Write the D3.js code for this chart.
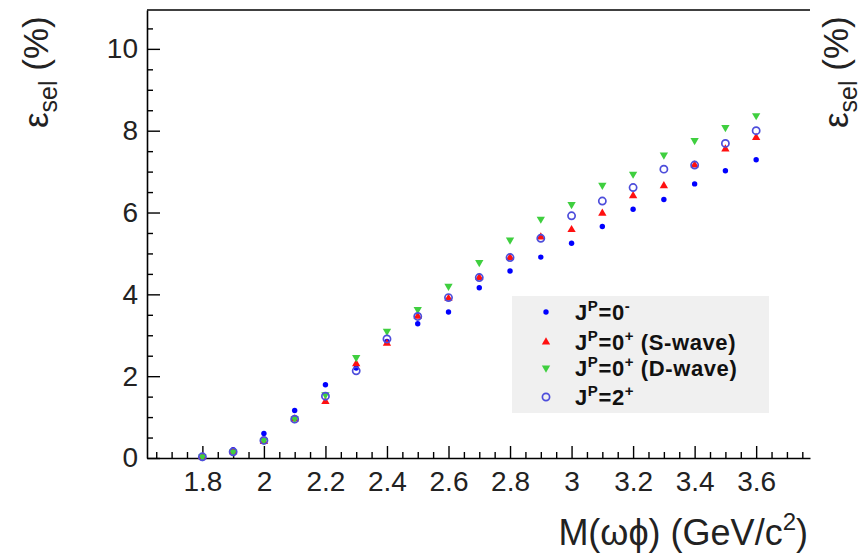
<!DOCTYPE html>
<html>
<head>
<meta charset="utf-8">
<script src="https://cdn.jsdelivr.net/npm/d3@7"></script>
<style>
  body { margin: 0; background: #fff; }
  svg { display: block; }
  text { font-family: "Liberation Sans", Arial, sans-serif; }
</style>
</head>
<body>
<div id="chart"></div>
<script>
// data (selection efficiency in %)
var masses   = [1.8, 1.9, 2.0, 2.1, 2.2, 2.3, 2.4, 2.5, 2.6, 2.7, 2.8, 2.9, 3.0, 3.1, 3.2, 3.3, 3.4, 3.5, 3.6];
var jp0minus = [0.03, 0.2, 0.6, 1.16, 1.79, 2.2, 2.85, 3.28, 3.57, 4.16, 4.57, 4.91, 5.25, 5.66, 6.08, 6.32, 6.7, 7.02, 7.29];
var jp0plusS = [0.03, 0.15, 0.4, 0.95, 1.38, 2.3, 2.8, 3.46, 3.9, 4.41, 4.9, 5.4, 5.58, 5.98, 6.41, 6.65, 7.16, 7.55, 7.83];
var jp0plusD = [0.03, 0.15, 0.43, 0.96, 1.55, 2.46, 3.1, 3.63, 4.2, 4.78, 5.33, 5.84, 6.2, 6.67, 6.94, 7.41, 7.76, 8.08, 8.37];
var jp2plus  = [0.03, 0.15, 0.43, 0.95, 1.51, 2.13, 2.91, 3.46, 3.92, 4.41, 4.9, 5.37, 5.92, 6.28, 6.61, 7.06, 7.16, 7.69, 8.0];
var xTicks = [1.8, 2.0, 2.2, 2.4, 2.6, 2.8, 3.0, 3.2, 3.4, 3.6];
var yTicks = [0, 2, 4, 6, 8, 10];

var svgWidth = 866;
var svgHeight = 556;
var margin = { top: 10, right: 56, bottom: 98, left: 147 };
var width = svgWidth - margin.left - margin.right;
var height = svgHeight - margin.top - margin.bottom;

var svg = d3.select("#chart").append("svg")
    .attr("width", svgWidth)
    .attr("height", svgHeight);

var g = svg.append("g")
    .attr("transform", `translate(${margin.left},${margin.top})`);

var xScale = d3.scaleLinear().domain([1.62, 3.775]).range([0, width]);
var yScale = d3.scaleLinear().domain([0, 10.95]).range([height, 0]);

// minor ticks every 0.05 on x, 0.5 on y
var xMinor = d3.range(33, 76).filter(i => i % 4 !== 0).map(i => i / 20);
var yMinor = d3.range(1, 22).filter(i => i % 4 !== 0).map(i => i / 2);

function styleAxis(sel) {
    sel.selectAll("path").attr("stroke", "#000").attr("stroke-width", 1.6);
    sel.selectAll("line").attr("stroke", "#000").attr("stroke-width", 1.4);
    sel.selectAll("text").attr("font-size", 28).attr("fill", "#222")
        .attr("font-family", "'Liberation Sans', Arial, sans-serif");
}

// x axis (ticks point into the frame)
g.append("g")
    .attr("transform", `translate(0,${height})`)
    .call(d3.axisBottom(xScale).tickValues(xMinor).tickSize(-6).tickFormat(""))
    .call(s => s.select(".domain").remove())
    .call(styleAxis);

g.append("g")
    .attr("transform", `translate(0,${height})`)
    .call(d3.axisBottom(xScale).tickValues(xTicks).tickSizeInner(-12).tickSizeOuter(0)
        .tickPadding(13).tickFormat(d3.format("")))
    .call(styleAxis);

// y axis
g.append("g")
    .call(d3.axisLeft(yScale).tickValues(yMinor).tickSize(-6).tickFormat(""))
    .call(s => s.select(".domain").remove())
    .call(styleAxis);

g.append("g")
    .call(d3.axisLeft(yScale).tickValues(yTicks).tickSizeInner(-13).tickSizeOuter(0)
        .tickPadding(9).tickFormat(d3.format("")))
    .call(styleAxis);

// top frame line
g.append("line")
    .attr("x1", 0).attr("x2", width)
    .attr("y1", 0).attr("y2", 0)
    .attr("stroke", "#000").attr("stroke-width", 1.6);

// markers
var blue = "#0000ff", red = "#ff1010", green = "#3fcf3f", purple = "#4d4ddb";
var triUp = d3.symbol().type(d3.symbolTriangle).size(30);
var triDown = d3.symbol().type(d3.symbolTriangle).size(30);

g.append("g").selectAll("circle")
    .data(masses.map((m, i) => [m, jp0minus[i]]))
    .enter().append("circle")
    .attr("cx", d => xScale(d[0]))
    .attr("cy", d => yScale(d[1]))
    .attr("r", 2.7)
    .attr("fill", blue);

g.append("g").selectAll("path")
    .data(masses.map((m, i) => [m, jp0plusS[i]]))
    .enter().append("path")
    .attr("d", triUp)
    .attr("transform", d => `translate(${xScale(d[0])},${yScale(d[1])})`)
    .attr("fill", red);

g.append("g").selectAll("path")
    .data(masses.map((m, i) => [m, jp0plusD[i]]))
    .enter().append("path")
    .attr("d", triDown)
    .attr("transform", d => `translate(${xScale(d[0])},${yScale(d[1])}) rotate(180)`)
    .attr("fill", green);

g.append("g").selectAll("circle")
    .data(masses.map((m, i) => [m, jp2plus[i]]))
    .enter().append("circle")
    .attr("cx", d => xScale(d[0]))
    .attr("cy", d => yScale(d[1]))
    .attr("r", 3.6)
    .attr("fill", "none")
    .attr("stroke", purple)
    .attr("stroke-width", 1.7);

// legend
var legend = svg.append("g").attr("transform", "translate(512,296)");
legend.append("rect")
    .attr("width", 257).attr("height", 117)
    .attr("fill", "#f0f0f0");

var legendItems = [
    { sup1: "P", rest: "=0", sup2: "-", tail: "" },
    { sup1: "P", rest: "=0", sup2: "+", tail: " (S-wave)" },
    { sup1: "P", rest: "=0", sup2: "+", tail: " (D-wave)" },
    { sup1: "P", rest: "=2", sup2: "+", tail: "" }
];
var rowY = [16, 46, 72, 101];

legend.append("circle").attr("cx", 34).attr("cy", rowY[0]).attr("r", 2.7).attr("fill", blue);
legend.append("path").attr("d", triUp).attr("transform", `translate(34,${rowY[1]})`).attr("fill", red);
legend.append("path").attr("d", triDown).attr("transform", `translate(34,${rowY[2]}) rotate(180)`).attr("fill", green);
legend.append("circle").attr("cx", 34).attr("cy", rowY[3]).attr("r", 3.6)
    .attr("fill", "none").attr("stroke", purple).attr("stroke-width", 1.7);

legendItems.forEach(function(d, i) {
    var t = legend.append("text")
        .attr("x", 63).attr("y", rowY[i] + 8)
        .attr("font-size", 22).attr("font-weight", "bold").attr("fill", "#111")
        .attr("letter-spacing", 0.6);
    t.append("tspan").text("J");
    t.append("tspan").attr("font-size", 15).attr("dy", -9).text(d.sup1);
    t.append("tspan").attr("dy", 9).text(d.rest);
    t.append("tspan").attr("font-size", 15).attr("dy", -9).text(d.sup2);
    t.append("tspan").attr("dy", 9).text(d.tail);
});

// axis titles
function yTitle(x) {
    var t = svg.append("text")
        .attr("transform", `translate(${x},128) rotate(-90)`)
        .attr("font-size", 35).attr("fill", "#222");
    t.append("tspan").text("ε");
    t.append("tspan").attr("font-size", 25).attr("dy", 9).text("sel");
    t.append("tspan").attr("dy", -9).text(" (%)");
}
yTitle(48);
yTitle(848);

var xt = svg.append("text")
    .attr("x", 808).attr("y", 545)
    .attr("text-anchor", "end")
    .attr("font-size", 36).attr("fill", "#222");
xt.append("tspan").text("M(ωϕ) (GeV/c");
xt.append("tspan").attr("font-size", 24).attr("dy", -15).text("2");
xt.append("tspan").attr("dy", 15).text(")");
</script>
</body>
</html>
